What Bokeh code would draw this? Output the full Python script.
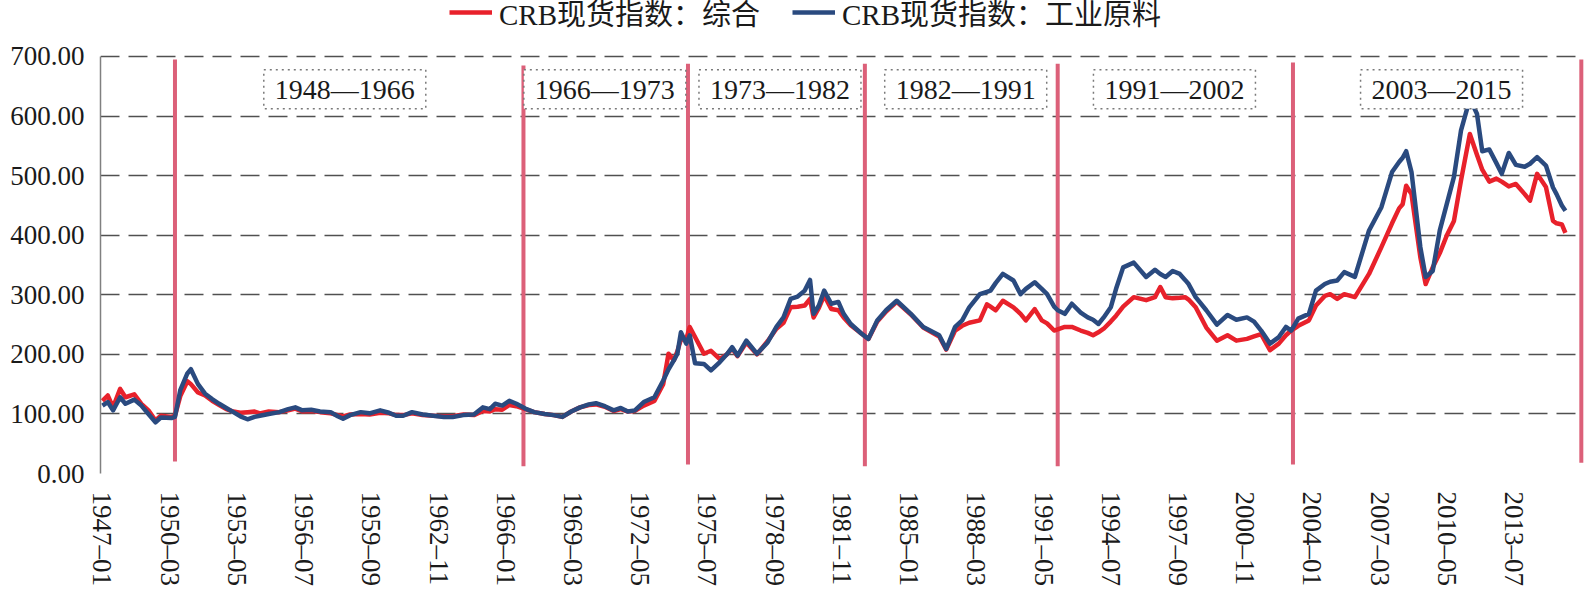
from bokeh.plotting import figure
from bokeh.models import Range1d, FixedTicker, Legend, LegendItem, Label, NumeralTickFormatter
from bokeh.embed import file_html
from bokeh.resources import INLINE

# ---------------- data ----------------
dates = ["1947-01", "1947-04", "1947-07", "1947-11", "1948-02", "1948-07", "1948-11", "1949-03", "1949-07", "1949-10",
         "1950-04", "1950-06", "1950-09", "1951-01", "1951-03", "1951-07", "1951-11", "1952-03", "1952-07", "1952-11",
         "1953-03", "1953-07", "1953-11", "1954-03", "1954-06", "1954-11", "1955-05", "1955-10", "1956-02", "1956-06",
         "1956-11", "1957-04", "1957-10", "1958-02", "1958-05", "1958-09", "1959-03", "1959-08", "1960-02", "1960-07",
         "1960-11", "1961-03", "1961-08", "1962-02", "1962-08", "1963-02", "1963-07", "1964-01", "1964-07", "1964-12",
         "1965-04", "1965-07", "1965-11", "1966-03", "1966-07", "1966-12", "1967-05", "1967-11", "1968-04", "1968-09",
         "1969-02", "1969-07", "1969-12", "1970-04", "1970-09", "1971-02", "1971-06", "1971-10", "1972-02", "1972-07",
         "1973-01", "1973-06", "1973-09", "1973-12", "1974-02", "1974-04", "1974-07", "1974-09", "1974-12", "1975-05",
         "1975-09", "1976-02", "1976-06", "1976-09", "1976-12", "1977-05", "1977-11", "1978-05", "1978-10", "1979-02",
         "1979-06", "1979-10", "1980-02", "1980-05", "1980-07", "1980-10", "1981-01", "1981-05", "1981-09", "1981-12",
         "1982-04", "1982-10", "1983-02", "1983-07", "1983-12", "1984-06", "1985-02", "1985-09", "1986-06", "1986-10",
         "1987-03", "1987-07", "1987-11", "1988-05", "1988-09", "1988-11", "1989-02", "1989-06", "1989-12", "1990-04",
         "1990-07", "1990-12", "1991-04", "1991-07", "1991-11", "1992-01", "1992-05", "1992-09", "1993-02", "1993-06",
         "1993-09", "1993-12", "1994-03", "1994-07", "1994-10", "1995-02", "1995-08", "1996-03", "1996-08", "1996-11",
         "1997-02", "1997-06", "1997-10", "1998-01", "1998-03", "1998-07", "1999-01", "1999-07", "2000-01", "2000-06",
         "2000-12", "2001-04", "2001-08", "2002-01", "2002-06", "2002-10", "2003-01", "2003-05", "2003-11", "2004-03",
         "2004-08", "2004-11", "2005-03", "2005-07", "2006-01", "2006-09", "2007-04", "2007-10", "2008-02", "2008-04",
         "2008-06", "2008-09", "2009-02", "2009-05", "2009-09", "2010-01", "2010-05", "2010-09", "2011-01", "2011-06",
         "2011-10", "2012-01", "2012-05", "2012-09", "2012-12", "2013-04", "2013-08", "2014-01", "2014-04", "2014-08",
         "2015-01", "2015-05", "2015-07", "2015-10", "2015-12"]

composite = [122, 131, 111, 142, 128, 133, 117, 106, 89, 97,
             95, 97, 130, 155, 150, 136, 131, 122, 115, 108,
             104, 102, 103, 104, 101, 104, 103, 106, 109, 104,
             105, 103, 101, 98, 96, 99, 100, 99, 102, 101,
             98, 98, 101, 98, 97, 96, 96, 99, 98, 105,
             104, 108, 107, 115, 113, 108, 103, 100, 98, 95,
             104, 111, 115, 116, 112, 105, 108, 104, 105, 114,
             122, 150, 201, 190, 205, 225, 225, 246, 229, 201,
             206, 192, 200, 210, 197, 220, 200, 222, 243, 253,
             279, 280, 282, 293, 262, 278, 299, 276, 274, 262,
             249, 235, 226, 255, 272, 288, 267, 245, 230, 208,
             240, 248, 253, 257, 284, 280, 274, 290, 279, 268,
             257, 276, 257, 252, 240, 242, 246, 246, 240, 236,
             232, 237, 243, 255, 265, 280, 296, 291, 296, 313,
             296, 294, 295, 296, 292, 279, 245, 223, 232, 223,
             226, 230, 234, 207, 218, 232, 240, 248, 257, 282,
             298, 301, 293, 301, 296, 335, 380, 420, 445, 452,
             483, 469, 363, 318, 346, 370, 400, 424, 492, 570,
             535, 510, 490, 495, 490, 482, 486, 469, 458, 503,
             481, 424, 420, 418, 404]

industrial = [114, 120, 106, 128, 117, 124, 114, 100, 86, 94,
              93, 95, 140, 168, 175, 150, 134, 125, 117, 110,
              103, 96, 91, 95, 97, 100, 103, 108, 111, 106,
              107, 104, 103, 96, 92, 98, 103, 101, 106, 102,
              97, 97, 103, 99, 97, 95, 95, 98, 99, 111,
              108, 117, 114, 122, 117, 109, 103, 100, 98, 95,
              104, 111, 116, 118, 113, 106, 110, 104, 106, 120,
              128, 156, 175, 190, 201, 237, 218, 232, 185, 184,
              173, 187, 200, 212, 198, 223, 201, 220, 246, 262,
              293, 297, 307, 325, 268, 282, 307, 285, 288, 268,
              251, 235, 226, 257, 274, 290, 268, 246, 232, 209,
              246, 257, 279, 301, 305, 307, 320, 335, 324, 301,
              310, 321, 310, 301, 280, 274, 268, 285, 270, 262,
              258, 251, 262, 279, 310, 346, 354, 330, 342, 335,
              330, 340, 335, 325, 318, 296, 274, 250, 266, 258,
              262, 255, 240, 218, 229, 246, 240, 260, 268, 307,
              318, 322, 324, 338, 330, 408, 447, 506, 523, 530,
              541, 506, 380, 330, 340, 408, 453, 498, 576, 629,
              604, 541, 544, 521, 503, 538, 518, 515, 520, 531,
              517, 480, 469, 450, 441]

tick_labels = ["1947-01", "1950-03", "1953-05", "1956-07", "1959-09", "1962-11", "1966-01", "1969-03",
               "1972-05", "1975-07", "1978-09", "1981-11", "1985-01", "1988-03", "1991-05", "1994-07",
               "1997-09", "2000-11", "2004-01", "2007-03", "2010-05", "2013-07"]

y_ticks = [0, 100, 200, 300, 400, 500, 600, 700]

divider_dates = ["1950-06", "1966-11", "1974-08", "1982-12", "1992-01", "2003-02", "2016-09"]
divider_top = [695, 685, 688, 688, 688, 690, 695]
divider_bottom = [20, 12, 15, 12, 12, 15, 18]

period_texts = ["1948—1966", "1966—1973", "1973—1982", "1982—1991", "1991—2002", "2003—2015"]
period_centers = ["1958-06", "1970-09", "1978-12", "1987-09", "1997-07", "2010-02"]

series_names = ["CRB现货指数：综合", "CRB现货指数：工业原料"]


def month_index(s):
    y, m = s.split("-")
    return (int(y) - 1947) * 12 + int(m) - 1


xs = [month_index(d) for d in dates]
tick_pos = [month_index(t) for t in tick_labels]
div_x = [month_index(d) for d in divider_dates]

SERIF = "Liberation Serif"
CJK = "Liberation Serif, Noto Sans CJK SC"
TEXT = "#1a1a1a"
RED = "#E8212B"
BLUE = "#2A4A7F"
PINK = "#DC6079"

# The frame reaches the top of the page so the legend can sit above the 700 line
# (the value axis itself is bounded to 0..700).
p = figure(width=1586, height=595, output_backend="svg", toolbar_location=None,
           x_range=Range1d(-1.1, 837.8), y_range=Range1d(0, 794),
           min_border_left=100, min_border_right=2, min_border_top=0, min_border_bottom=122)
p.outline_line_color = None
p.background_fill_color = "white"
p.border_fill_color = "white"

# grid
p.xgrid.grid_line_color = None
p.ygrid.ticker = FixedTicker(ticks=y_ticks)
p.ygrid.grid_line_color = "#505050"
p.ygrid.grid_line_width = 1.4
p.ygrid.grid_line_dash = "19 9"

# y axis
p.yaxis.ticker = FixedTicker(ticks=y_ticks)
p.yaxis.bounds = (0, 700)
p.yaxis.formatter = NumeralTickFormatter(format="0.00")
p.yaxis.major_label_text_font = SERIF
p.yaxis.major_label_text_font_size = "27px"
p.yaxis.major_label_text_color = TEXT
p.yaxis.major_tick_line_color = None
p.yaxis.major_tick_out = 0
p.yaxis.minor_tick_line_color = None
p.yaxis.axis_line_color = "#808080"
p.yaxis.axis_line_width = 1.5
p.yaxis.major_label_standoff = 16

# x axis
p.xaxis.ticker = FixedTicker(ticks=tick_pos)
p.xaxis.major_label_overrides = {pos: lab.replace("-", "–") for pos, lab in zip(tick_pos, tick_labels)}
p.xaxis.major_label_orientation = "vertical"
p.xaxis.major_label_text_font = SERIF
p.xaxis.major_label_text_font_size = "27px"
p.xaxis.major_label_text_color = TEXT
p.xaxis.major_tick_line_color = None
p.xaxis.major_tick_out = 0
p.xaxis.minor_tick_line_color = None
p.xaxis.axis_line_color = None
p.xaxis.major_label_standoff = 18

# period dividers
p.segment(x0=div_x, y0=divider_bottom, x1=div_x, y1=divider_top, line_color=PINK, line_width=4)

# series
r_red = p.line(xs, composite, line_color=RED, line_width=4.5, line_join="round")
r_blue = p.line(xs, industrial, line_color=BLUE, line_width=4.5, line_join="round")

# period labels in dotted boxes
for txt, c in zip(period_texts, period_centers):
    p.add_layout(Label(x=month_index(c), y=645, text=txt, text_align="center", text_baseline="middle",
                       text_font=SERIF, text_font_size="28px", text_color=TEXT,
                       border_line_color="#7a7a7a", border_line_dash="dotted", border_line_width=1.5,
                       background_fill_color="white", padding=(11, 4)))

legend = Legend(items=[LegendItem(label=series_names[0], renderers=[r_red]),
                       LegendItem(label=series_names[1], renderers=[r_blue])],
                orientation="horizontal", location=(349, 440),
                label_text_font=CJK, label_text_font_size="29px", label_text_color=TEXT,
                glyph_width=43, glyph_height=30, label_standoff=7, spacing=32,
                padding=0, margin=0, border_line_color=None, background_fill_alpha=0)
p.add_layout(legend, "center")

open("out.html", "w").write(file_html(p, INLINE))
